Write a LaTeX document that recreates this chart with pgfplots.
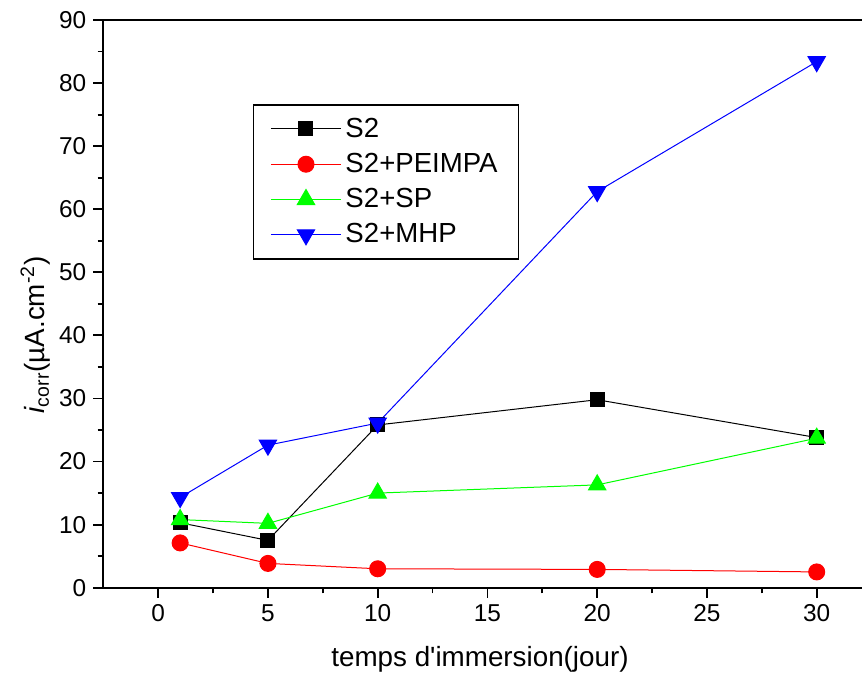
\documentclass[border=0pt]{standalone}
\usepackage{fontspec}
\setmainfont{Liberation Sans}
\usepackage{pgfplots}
\pgfplotsset{compat=1.18}
\definecolor{cred}{RGB}{255,0,0}
\definecolor{cgreen}{RGB}{0,255,0}
\definecolor{cblue}{RGB}{0,0,255}
\begin{document}
\begin{tikzpicture}
\begin{axis}[
  scale only axis,
  width=379.75pt, height=283.85pt,
  xmin=-2.5, xmax=32.1,
  ymin=0, ymax=90,
  axis x line*=box, axis y line*=left,
  xtick pos=bottom, ytick pos=left,
  tick align=outside,
  xtick={0,5,...,30}, ytick={0,10,...,90},
  minor x tick num=1, minor y tick num=1,
  major tick length=5pt, minor tick length=2.8pt,
  every tick/.style={line width=0.9pt, black},
  axis line style={line width=0.9pt},
  /pgf/number format/assume math mode=true,
  tick label style={font=\fontsize{12.2pt}{14pt}\selectfont},
  xlabel={temps d\textquotesingle immersion(jour)},
  ylabel={\textit{i}\textsubscript{corr}(µA.cm\textsuperscript{-2})},
  label style={font=\fontsize{13.9pt}{16pt}\selectfont},
  xlabel style={at={(axis description cs:0.496,-0.127)}, anchor=center},
  ylabel style={at={(axis description cs:-0.0895,0.445)}, anchor=center},
  legend style={at={(axis description cs:0.1967,0.852)}, anchor=north west,
    draw=black, line width=0.8pt, font=\fontsize{13.8pt}{16pt}\selectfont,
    inner xsep=8.5pt, inner ysep=4.5pt, row sep=2.5pt},
  legend cell align=left,
  legend image code/.code={\draw[mark repeat=2,mark phase=2,#1] plot coordinates {(0pt,0pt) (17.5pt,0pt) (35pt,0pt)};},
]
\addplot[black, line width=0.5pt, mark=square*, mark size=3.5pt, mark options={solid}] coordinates {(1,10.3) (5,7.5) (10,25.8) (20,29.8) (30,23.8)};
\addlegendentry{S2}
\addplot[cred, line width=0.5pt, mark=*, mark size=4pt] coordinates {(1,7.1) (5,3.85) (10,3.0) (20,2.9) (30,2.5)};
\addlegendentry{S2+PEIMPA}
\addplot[cgreen, line width=0.5pt, mark=triangle*, mark size=5pt] coordinates {(1,10.8) (5,10.2) (10,15.0) (20,16.3) (30,23.7)};
\addlegendentry{S2+SP}
\addplot[cblue, line width=0.5pt, mark=triangle*, mark size=5pt, mark options={rotate=180}] coordinates {(1,14.3) (5,22.6) (10,26.1) (20,62.8) (30,83.4)};
\addlegendentry{S2+MHP}
\end{axis}
\pgfresetboundingbox
\path[use as bounding box] (current axis.south west) ++(-51.65pt,-43.65pt) rectangle ++(431pt,337.5pt);
\end{tikzpicture}
\end{document}
